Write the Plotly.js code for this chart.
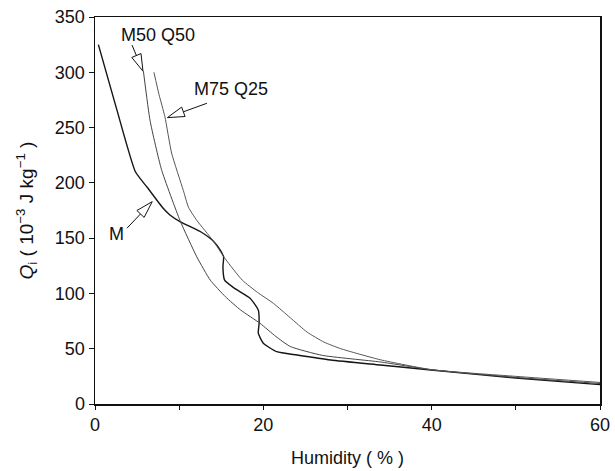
<!DOCTYPE html>
<html>
<head>
<meta charset="utf-8">
<script src="https://cdn.plot.ly/plotly-3.0.1.min.js"></script>
<style>html,body{margin:0;padding:0;background:#fff;}#chart{width:615px;height:471px;}</style>
</head>
<body>
<div id="chart"></div>
<script>
// Series: M (solid dark)
var mX = [0.4, 2.6, 4.8, 6.2, 8.1, 8.9, 10.1, 12.5, 14.1, 14.9, 15.28, 15.2, 15.4, 16.5, 18.45, 19.4, 19.5, 19.4, 20.0, 21.6, 24.0, 28.0, 33.9, 39.9, 50, 60];
var mY = [325, 266, 210, 196, 177, 171, 165, 156, 147, 139, 133, 124, 112, 105, 95.5, 85, 73, 64, 55, 47.3, 44.3, 39.8, 35.3, 30.7, 23.5, 17.5];
// Series: M50 Q50
var m50X = [5.75, 6.55, 7.9, 10.1, 12.1, 13.7, 15.5, 17.3, 19.6, 21.5, 23.2, 27, 33.9, 40, 50, 60];
var m50Y = [301, 256, 212, 166, 133, 112, 97, 85, 73, 61, 52, 44, 38, 31, 24, 18.5];
// Series: M75 Q25
var m75X = [7.0, 7.6, 8.3, 9.1, 10.5, 11.1, 12.1, 14.0, 15.5, 17.5, 19.3, 21.2, 23.2, 25.2, 27.2, 29.2, 33.9, 40, 50, 60];
var m75Y = [300, 280, 260, 227, 193, 178, 166, 148, 131, 112, 101, 91, 78, 65, 56, 50, 40, 31, 25, 19.5];

var xTicks = [0, 20, 40, 60];
var yTicks = [0, 50, 100, 150, 200, 250, 300, 350];

// Labels with arrows: text position, arrow tail, arrow tip (data units)
var labelText = ["M50 Q50", "M75 Q25", "M"];
var labelX = [7.5, 16.1, 2.5];
var labelY = [333.6, 284.8, 153.7];
var tailX = [4.4, 13.3, 3.8];
var tailY = [324.6, 272, 159];
var tipX = [5.7, 8.6, 6.8];
var tipY = [301, 259, 183];

var FONT = "Liberation Sans, Arial, sans-serif";
var W = 615, H = 471;
var margin = {l: 95, r: 15, t: 17, b: 67};
var plotW = W - margin.l - margin.r, plotH = H - margin.t - margin.b;
var xRange = [0, 60], yRange = [0, 350];
var sx = plotW / (xRange[1] - xRange[0]);
var sy = plotH / (yRange[1] - yRange[0]);

var traces = [
  {x: mX, y: mY, mode: 'lines', line: {color: '#151515', width: 1.4, shape: 'spline', smoothing: 0.5}, name: 'M'},
  {x: m50X, y: m50Y, mode: 'lines', line: {color: '#444', width: 1, shape: 'spline', smoothing: 0.5}, name: 'M50 Q50'},
  {x: m75X, y: m75Y, mode: 'lines', line: {color: '#555', width: 1, shape: 'spline', smoothing: 0.5}, name: 'M75 Q25'}
];

var shapes = [];
var annotations = [];
for (var i = 0; i < labelText.length; i++) {
  annotations.push({x: labelX[i], y: labelY[i], xref: 'x', yref: 'y', text: labelText[i], showarrow: false,
    font: {family: FONT, size: 18, color: '#111'}});
  var dx = (tailX[i] - tipX[i]) * sx, dy = -(tailY[i] - tipY[i]) * sy;
  var len = Math.sqrt(dx*dx + dy*dy);
  var ux = dx/len, uy = dy/len;
  var nx = -uy, ny = ux;
  var L = 17, w = 5;
  var bx = ux*L, by = uy*L;
  var toData = function(px, py) { return [tipX[i] + px/sx, tipY[i] - py/sy]; };
  var b = toData(bx, by);
  var b1 = toData(bx + nx*w, by + ny*w);
  var b2 = toData(bx - nx*w, by - ny*w);
  shapes.push({type: 'line', xref: 'x', yref: 'y', x0: tailX[i], y0: tailY[i], x1: b[0], y1: b[1],
    line: {color: '#111', width: 1}});
  shapes.push({type: 'path', xref: 'x', yref: 'y',
    path: 'M' + tipX[i] + ',' + tipY[i] + ' L' + b1[0] + ',' + b1[1] + ' L' + b2[0] + ',' + b2[1] + ' Z',
    fillcolor: '#fff', line: {color: '#111', width: 1}});
}

var layout = {
  width: W, height: H,
  margin: margin,
  paper_bgcolor: '#fff', plot_bgcolor: '#fff',
  showlegend: false,
  font: {family: FONT, color: '#111'},
  xaxis: {
    range: xRange, tickvals: xTicks, ticktext: xTicks.map(String),
    ticks: 'outside', ticklen: 4, tickcolor: '#111', tickwidth: 1,
    minor: {dtick: 10, tick0: 0, ticks: 'outside', ticklen: 4, tickcolor: '#111'},
    showgrid: false, zeroline: false,
    showline: true, linecolor: '#111', linewidth: 1.5, mirror: true,
    tickfont: {family: FONT, size: 18, color: '#111'},
    title: {text: 'Humidity ( % )', font: {family: FONT, size: 18, color: '#111'}, standoff: 17},
    automargin: false
  },
  yaxis: {
    range: yRange, tickvals: yTicks, ticktext: yTicks.map(String),
    ticks: 'outside', ticklen: 5, tickcolor: '#111', tickwidth: 1,
    showgrid: false, zeroline: false,
    showline: true, linecolor: '#111', linewidth: 1.5, mirror: true,
    tickfont: {family: FONT, size: 18, color: '#111'},
    title: {text: '<i>Q</i><sub>i</sub> ( 10<sup>−3</sup> J kg<sup>−1</sup> )', font: {family: FONT, size: 19, color: '#111'}, standoff: 16},
    automargin: false
  },
  shapes: shapes,
  annotations: annotations
};

Plotly.newPlot('chart', traces, layout, {displayModeBar: false, staticPlot: true});
</script>
</body>
</html>
